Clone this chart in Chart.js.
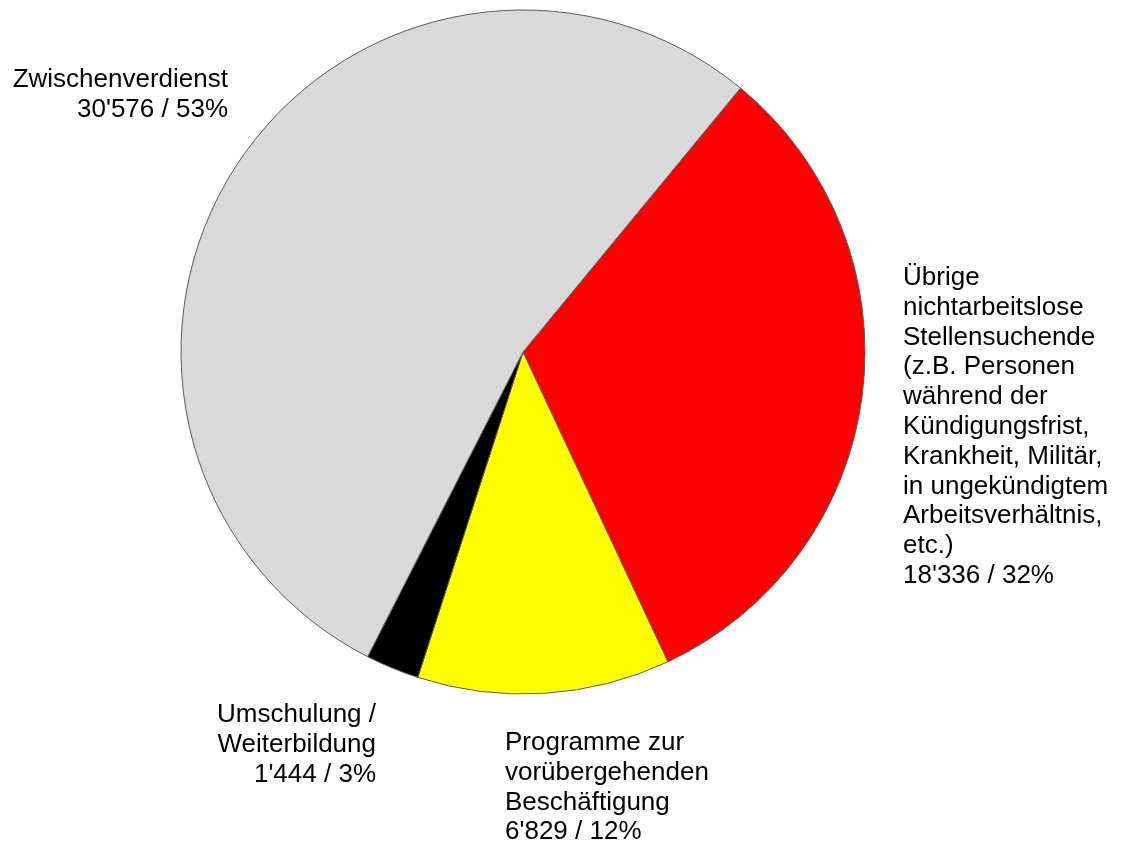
<!DOCTYPE html>
<html>
<head>
<meta charset="utf-8">
<script src="https://cdn.jsdelivr.net/npm/chart.js@4/dist/chart.umd.min.js"></script>
<style>
  html, body { margin: 0; padding: 0; background: #ffffff; }
  #wrap { width: 1121px; height: 843px; position: relative; }
</style>
</head>
<body>
<div id="wrap"><canvas id="c" width="1121" height="843"></canvas></div>
<script>
// ---- data ----
const categories = [
  "Übrige\nnichtarbeitslose\nStellensuchende\n(z.B. Personen\nwährend der\nKündigungsfrist,\nKrankheit, Militär,\nin ungekündigtem\nArbeitsverhältnis,\netc.)",
  "Programme zur\nvorübergehenden\nBeschäftigung",
  "Umschulung /\nWeiterbildung",
  "Zwischenverdienst"
];
const values = [18336, 6829, 1444, 30576];
const colors = ["#FF0000", "#FFFF00", "#000000", "#D9D9D9"];

// ---- label placement (relative to pie centre, in px for radius 342) ----
const labelLayout = [
  { dx: 380,  dy: -67, align: "left"  },
  { dx: -18,  dy: 398, align: "left"  },
  { dx: -147, dy: 370, align: "right" },
  { dx: -295, dy: -265, align: "right" }
];

function fmt(n) {
  return String(n).replace(/\B(?=(\d{3})+(?!\d))/g, "'");
}

const total = values.reduce((a, b) => a + b, 0);

const labelPlugin = {
  id: 'pieLabels',
  afterDraw(chart) {
    const ctx = chart.ctx;
    const meta = chart.getDatasetMeta(0);
    const arc0 = meta.data[0];
    const cx = arc0.x, cy = arc0.y, r = arc0.outerRadius;
    const s = r / 342;
    ctx.save();
    ctx.font = '26px "Liberation Sans", Arial, sans-serif';
    ctx.fillStyle = '#000';
    ctx.textBaseline = 'alphabetic';
    const lh = 29.8;
    categories.forEach((cat, i) => {
      const L = labelLayout[i];
      const lines = cat.split("\n");
      lines.push(fmt(values[i]) + " / " + Math.round(values[i] / total * 100) + "%");
      ctx.textAlign = L.align;
      const x = cx + L.dx * s;
      let y = cy + L.dy * s;
      lines.forEach((ln, k) => ctx.fillText(ln, x, y + k * lh));
    });
    ctx.restore();
  }
};

new Chart(document.getElementById('c'), {
  type: 'pie',
  data: {
    labels: categories,
    datasets: [{
      data: values,
      backgroundColor: colors,
      borderColor: '#5a5a5a',
      borderWidth: 1
    }]
  },
  options: {
    responsive: false,
    animation: false,
    rotation: 39.5,
    radius: 342,
    layout: { padding: { left: 180, right: 255, top: 9, bottom: 148 } },
    plugins: {
      legend: { display: false },
      tooltip: { enabled: false }
    }
  },
  plugins: [labelPlugin]
});
</script>
</body>
</html>
